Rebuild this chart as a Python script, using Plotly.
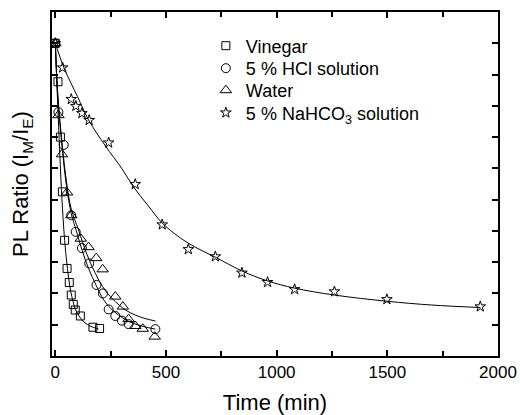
import plotly.graph_objects as go

# ---------------- data ----------------
vin_t = [0, 12, 23, 32, 42, 53, 63, 72, 81, 90, 113, 170, 200]
vin_v = [1.0, 0.877, 0.70, 0.525, 0.37, 0.28, 0.235, 0.195, 0.165, 0.147, 0.128, 0.092, 0.088]

hcl_t = [0, 14, 38, 72, 92, 120, 153, 186, 215, 241, 271, 301, 331, 452]
hcl_v = [1.0, 0.78, 0.675, 0.45, 0.397, 0.345, 0.296, 0.227, 0.2, 0.149, 0.128, 0.113, 0.102, 0.086]

wat_t = [0, 14, 30, 53, 72, 115, 150, 185, 214, 271, 305, 331, 361, 395, 449]
wat_v = [1.0, 0.77, 0.645, 0.523, 0.45, 0.375, 0.348, 0.313, 0.277, 0.19, 0.158, 0.118, 0.096, 0.087, 0.062]

nah_t = [0, 33, 72, 93, 120, 153, 241, 361, 483, 601, 723, 843, 959, 1081, 1261, 1498, 1920]
nah_v = [1.0, 0.922, 0.821, 0.799, 0.776, 0.754, 0.682, 0.549, 0.42, 0.341, 0.318, 0.266, 0.236, 0.213, 0.206, 0.181, 0.158]

# fitted curves as drawn in the reference
vin_fit_t = [0, 10, 20, 30, 40, 50, 60, 70, 80, 90, 110, 130, 160, 195]
vin_fit_v = [1.0, 0.82, 0.65, 0.50, 0.39, 0.31, 0.25, 0.205, 0.175, 0.15, 0.125, 0.108, 0.095, 0.086]

hcl_fit_t = [0, 10, 25, 50, 72, 95, 120, 150, 185, 218, 250, 286, 320, 354, 400, 452]
hcl_fit_v = [1.0, 0.84, 0.71, 0.545, 0.455, 0.40, 0.34, 0.28, 0.225, 0.18, 0.152, 0.131, 0.115, 0.104, 0.094, 0.086]

wat_fit_t = [0, 10, 25, 50, 72, 105, 140, 181, 225, 271, 315, 361, 405, 452]
wat_fit_v = [1.0, 0.85, 0.72, 0.56, 0.47, 0.403, 0.33, 0.264, 0.21, 0.174, 0.148, 0.131, 0.12, 0.112]

nah_fit_t = [0, 40, 100, 150, 226, 300, 354, 420, 482, 560, 632, 723, 843, 959, 1081, 1260, 1500, 1700, 1920]
nah_fit_v = [1.0, 0.92, 0.83, 0.755, 0.672, 0.60, 0.54, 0.48, 0.426, 0.38, 0.348, 0.316, 0.272, 0.24, 0.217, 0.195, 0.175, 0.163, 0.155]

names = ["Vinegar", "5 % HCl solution", "Water", "5 % NaHCO<sub>3</sub> solution"]
x_ticks = [0, 500, 1000, 1500, 2000]

FONT = "Arial, Liberation Sans, Helvetica, sans-serif"

fig = go.Figure()

fits = [(vin_fit_t, vin_fit_v), (hcl_fit_t, hcl_fit_v), (wat_fit_t, wat_fit_v), (nah_fit_t, nah_fit_v)]
for ft, fv in fits:
    fig.add_trace(go.Scatter(x=ft, y=fv, mode="lines", showlegend=False,
                             line=dict(color="black", width=1, shape="spline", smoothing=1.0),
                             hoverinfo="skip"))

legend_ids = ["legend", "legend2", "legend3", "legend4"]
pts = [(vin_t, vin_v, "square-open", 8), (hcl_t, hcl_v, "circle-open", 9),
       (wat_t, wat_v, "triangle-up-open", 10), (nah_t, nah_v, "star-open", 8)]
for i, (t, v, sym, sz) in enumerate(pts):
    fig.add_trace(go.Scatter(x=t, y=v, mode="markers", name=names[i], legend=legend_ids[i],
                             marker=dict(symbol=sym, size=sz, color="black",
                                         line=dict(color="black", width=1))))

# one legend box per row so rows can be spaced like the reference
row_y_px = [46, 68.5, 90.5, 113]
plot_top, plot_bot = 12, 356
legend_layout = {}
for lid, ypx in zip(legend_ids, row_y_px):
    legend_layout[lid] = dict(x=0.345, y=(plot_bot - ypx) / (plot_bot - plot_top),
                              xanchor="left", yanchor="middle",
                              bgcolor="rgba(0,0,0,0)", font=dict(size=18, family=FONT),
                              itemwidth=30)

fig.update_layout(
    width=520, height=415,
    margin=dict(l=52, r=22, t=12, b=59, autoexpand=False),
    paper_bgcolor="white", plot_bgcolor="white",
    font=dict(family=FONT, color="black", size=17),
    showlegend=True,
    **legend_layout,
)
fig.update_xaxes(range=[-15, 2000], tickvals=x_ticks, ticktext=[str(v) for v in x_ticks],
                 ticks="inside", ticklen=6, tickwidth=1.5, tickcolor="black",
                 minor=dict(ticks="inside", dtick=250, tick0=0, ticklen=5, tickwidth=1.5, tickcolor="black"),
                 showline=True, linewidth=2, linecolor="black", mirror="ticks",
                 showgrid=False, zeroline=False, automargin=False,
                 tickfont=dict(size=17),
                 title=dict(text="Time (min)", font=dict(size=22)))
fig.update_yaxes(range=[0, 1.1], dtick=0.1, tick0=0, showticklabels=False,
                 ticks="inside", ticklen=6, tickwidth=1.5, tickcolor="black",
                 showline=True, linewidth=2, linecolor="black", mirror="ticks",
                 showgrid=False, zeroline=False, automargin=False,
                 title=dict(text="PL Ratio (I<sub>M</sub>/I<sub>E</sub>)", font=dict(size=22)))

fig.write_html("out.html")
